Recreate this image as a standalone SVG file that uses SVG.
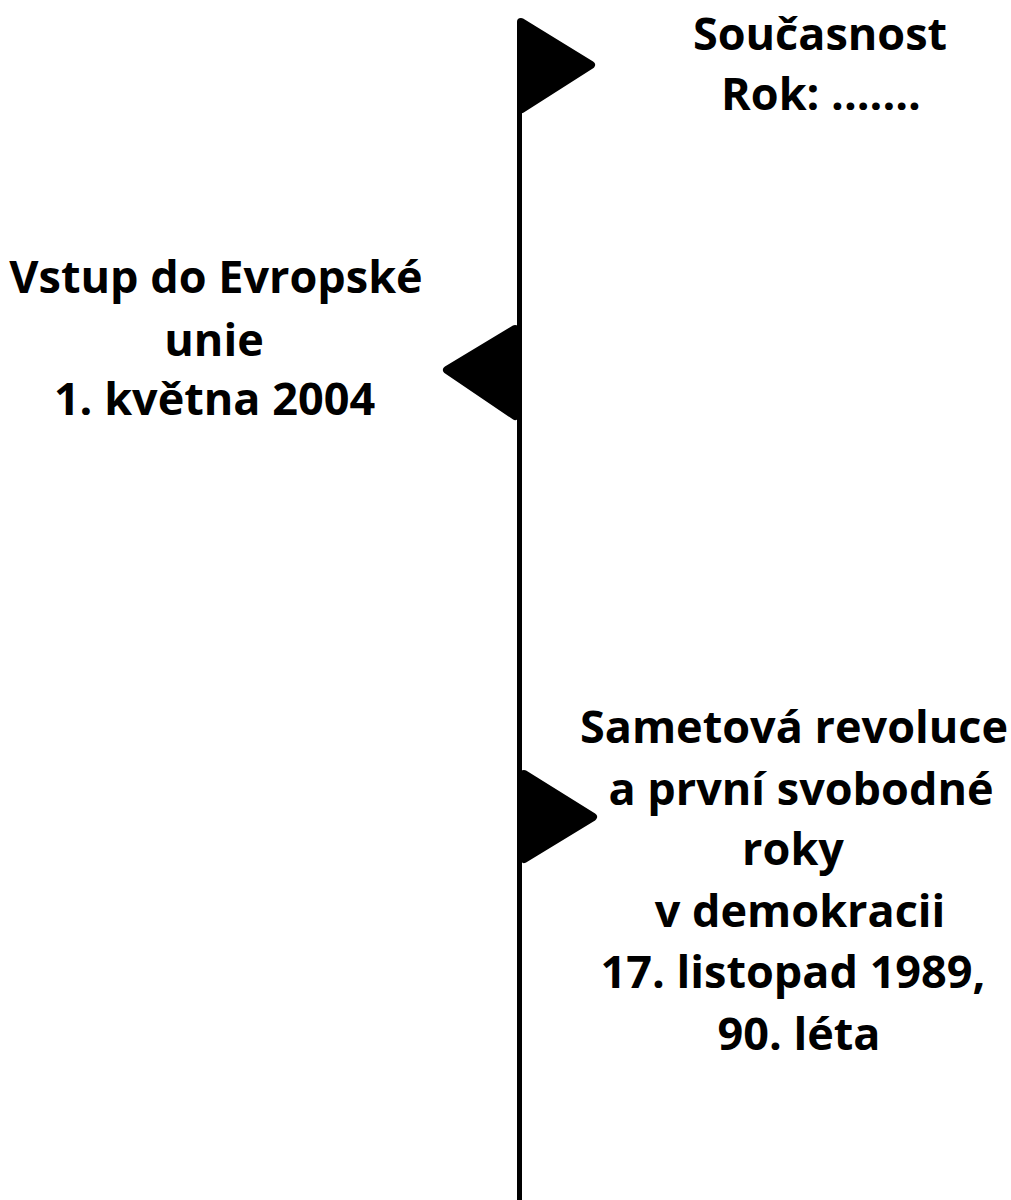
<svg xmlns="http://www.w3.org/2000/svg" width="1011" height="1200" viewBox="0 0 1011 1200">
<style>
.t{font-family:"Open Sans","Noto Sans","Liberation Sans",sans-serif;font-weight:700;font-size:45px;fill:#000;text-anchor:middle}
.flag{fill:#000;stroke:#000;stroke-width:8;stroke-linejoin:round}
</style>
<rect width="1011" height="1200" fill="#fff"/>
<g id="connectors">
<line x1="519.5" y1="22" x2="519.5" y2="1200" stroke="#000" stroke-width="5"/>
</g>
<g id="node-present">
<path class="flag" d="M521 22 L591 65 L522 109 Z"/>
<text class="t" x="820" y="50">Současnost</text>
<text class="t" x="821" y="110">Rok: .......</text>
</g>
<g id="node-eu">
<path class="flag" d="M515 329 L447 370 L515 416 Z"/>
<text class="t" x="216" y="293">Vstup do Evropské</text>
<text class="t" x="214" y="356">unie</text>
<text class="t" x="214.5" y="415">1. května 2004</text>
</g>
<g id="node-1989">
<path class="flag" d="M524 774 L593 817 L524 859 Z"/>
<text class="t" x="794" y="743">Sametová revoluce</text>
<text class="t" x="801" y="805">a první svobodné</text>
<text class="t" x="793" y="865">roky</text>
<text class="t" x="800" y="927">v demokracii</text>
<text class="t" x="793" y="988">17. listopad 1989,</text>
<text class="t" x="799" y="1050">90. léta</text>
</g>
</svg>
